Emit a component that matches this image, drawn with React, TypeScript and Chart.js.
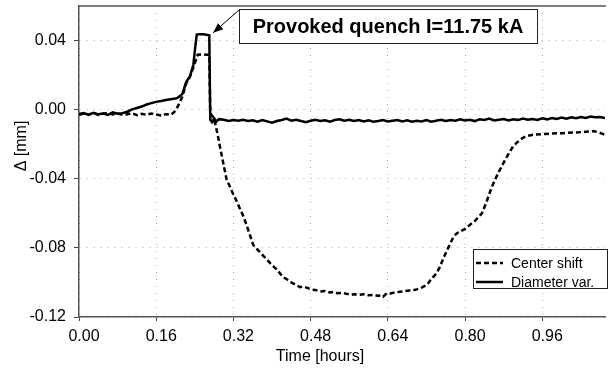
import React, { useEffect, useRef } from "react";
import { Chart, registerables } from "chart.js";

Chart.register(...registerables);

// ---------- data ----------
const X_TICKS = [0, 0.16, 0.32, 0.48, 0.64, 0.8, 0.96];
const Y_TICKS = [-0.12, -0.08, -0.04, 0, 0.04];
const X_MIN = 0;
const X_MAX = 1.09;
const Y_MIN = -0.12;
const Y_MAX = 0.06;

const SERIES_LABELS = ["Center shift", "Diameter var."];
const X_TITLE = "Time [hours]";
const Y_TITLE = "Δ [mm]";
const ANNOTATION_TEXT = "Provoked quench I=11.75 kA";
const ANNOTATION_TARGET = [0.278, 0.0445];

const CENTER_X = [
  0.0, 0.01, 0.02, 0.03, 0.04, 0.05, 0.06, 0.07, 0.08, 0.09, 0.1, 0.11, 0.12, 0.13, 0.14, 0.15, 0.16, 0.17, 0.18,
  0.19, 0.195, 0.2, 0.205, 0.21, 0.214, 0.222, 0.23, 0.237, 0.24, 0.244, 0.246, 0.255, 0.265, 0.27, 0.272, 0.277,
  0.282, 0.287, 0.292, 0.299, 0.306, 0.311, 0.318, 0.325, 0.333, 0.341, 0.35, 0.356, 0.361, 0.37, 0.38, 0.39, 0.4,
  0.41, 0.423, 0.43, 0.44, 0.45, 0.458, 0.465, 0.472, 0.48, 0.49, 0.5, 0.51, 0.52, 0.527, 0.535, 0.545, 0.555,
  0.562, 0.57, 0.58, 0.59, 0.6, 0.61, 0.62, 0.625, 0.63, 0.638, 0.645, 0.655, 0.665, 0.675, 0.685, 0.695, 0.7,
  0.71, 0.721, 0.73, 0.74, 0.748, 0.755, 0.765, 0.776, 0.783, 0.79, 0.8, 0.81, 0.82, 0.835, 0.845, 0.855, 0.862,
  0.87, 0.887, 0.9, 0.914, 0.925, 0.941, 0.96, 0.98, 1.0, 1.011, 1.03, 1.05, 1.066, 1.075, 1.085, 1.09,
];
const CENTER_Y = [
  -0.003, -0.0022, -0.0028, -0.002, -0.003, -0.0024, -0.0018, -0.0028, -0.0022, -0.003, -0.0026, -0.002, -0.0032,
  -0.0024, -0.003, -0.0022, -0.0028, -0.0034, -0.0026, -0.003, -0.002, -0.0005, 0.002, 0.005, 0.0074, 0.015, 0.019,
  0.0245, 0.027, 0.03, 0.0318, 0.032, 0.0318, 0.0318, -0.002, -0.004, -0.0077, -0.014, -0.0213, -0.031, -0.0406,
  -0.0435, -0.048, -0.052, -0.057, -0.0619, -0.069, -0.074, -0.0783, -0.081, -0.084, -0.087, -0.09, -0.0925,
  -0.097, -0.098, -0.1, -0.1015, -0.1027, -0.1024, -0.103, -0.104, -0.1044, -0.1052, -0.105, -0.1058, -0.1055,
  -0.1062, -0.106, -0.1066, -0.107, -0.1068, -0.1072, -0.1068, -0.1074, -0.1072, -0.1078, -0.1074, -0.1082,
  -0.1062, -0.1064, -0.1058, -0.1054, -0.105, -0.1046, -0.1044, -0.104, -0.103, -0.1015, -0.098, -0.095, -0.091,
  -0.086, -0.08, -0.0736, -0.0715, -0.0705, -0.069, -0.0667, -0.0645, -0.06, -0.053, -0.045, -0.0406, -0.036,
  -0.027, -0.021, -0.0174, -0.0155, -0.0145, -0.0142, -0.0138, -0.0136, -0.0134, -0.0132, -0.0128, -0.0124, -0.013,
  -0.014, -0.0145,
];

const DIAM_X = [
  0.0, 0.01, 0.02, 0.03, 0.04, 0.05, 0.06, 0.07, 0.08, 0.09, 0.1, 0.11, 0.12, 0.13, 0.14, 0.15, 0.16, 0.17, 0.18,
  0.19, 0.2, 0.205, 0.214, 0.222, 0.23, 0.237, 0.24, 0.244, 0.25, 0.258, 0.266, 0.27, 0.272, 0.276, 0.28, 0.285,
  0.29, 0.3, 0.31, 0.32, 0.33, 0.34, 0.35, 0.36, 0.37, 0.38, 0.39, 0.4, 0.41, 0.42, 0.43, 0.44, 0.45, 0.46, 0.47,
  0.48, 0.49, 0.5, 0.51, 0.52, 0.53, 0.54, 0.55, 0.56, 0.57, 0.58, 0.59, 0.6, 0.61, 0.62, 0.63, 0.64, 0.65, 0.66,
  0.67, 0.68, 0.69, 0.7, 0.71, 0.72, 0.73, 0.74, 0.75, 0.76, 0.77, 0.78, 0.79, 0.8, 0.81, 0.82, 0.83, 0.84, 0.85,
  0.86, 0.87, 0.88, 0.89, 0.9, 0.91, 0.92, 0.93, 0.94, 0.95, 0.96, 0.97, 0.98, 0.99, 1.0, 1.01, 1.02, 1.03, 1.04,
  1.05, 1.06, 1.07, 1.08, 1.09,
];
const DIAM_Y = [
  -0.0025, -0.002, -0.003, -0.0018, -0.0027, -0.0022, -0.003, -0.0016, -0.0024, -0.002, -0.0012, 0.0002, 0.001,
  0.0018, 0.003, 0.0038, 0.0045, 0.005, 0.0056, 0.006, 0.0064, 0.007, 0.009, 0.016, 0.0194, 0.026, 0.034, 0.0435,
  0.0437, 0.0436, 0.0432, 0.043, -0.0058, -0.0072, -0.005, -0.0068, -0.0055, -0.0058, -0.0066, -0.006, -0.0064,
  -0.0058, -0.0066, -0.0062, -0.007, -0.006, -0.0068, -0.0076, -0.0066, -0.006, -0.0052, -0.0064, -0.0058, -0.0066,
  -0.0072, -0.0064, -0.0058, -0.0066, -0.0062, -0.007, -0.006, -0.0056, -0.0064, -0.0058, -0.0066, -0.006, -0.0068,
  -0.0062, -0.007, -0.0066, -0.006, -0.0068, -0.0064, -0.006, -0.0068, -0.0062, -0.007, -0.0064, -0.0068, -0.006,
  -0.007, -0.0064, -0.0058, -0.0066, -0.006, -0.0064, -0.0056, -0.0062, -0.0058, -0.0066, -0.0056, -0.006, -0.0052,
  -0.0062, -0.0058, -0.0054, -0.0062, -0.0056, -0.006, -0.0052, -0.0058, -0.0054, -0.006, -0.005, -0.0056, -0.0048,
  -0.0054, -0.0046, -0.0052, -0.0044, -0.005, -0.0042, -0.0048, -0.004, -0.0044, -0.0042, -0.0048,
];

const FONT = '"Liberation Sans", Arial, Helvetica, sans-serif';

const fmt = (v: number) => (Math.abs(v) < 1e-9 ? "0.00" : v.toFixed(2));

const overlay = {
  id: "overlay",
  afterDraw(chart: any) {
    const { ctx, chartArea: ca, scales } = chart;
    ctx.save();
    // top frame line
    ctx.strokeStyle = "#555";
    ctx.lineWidth = 1.5;
    ctx.setLineDash([]);
    ctx.beginPath();
    ctx.moveTo(ca.left, ca.top);
    ctx.lineTo(ca.right + 1, ca.top);
    ctx.stroke();

    // axis titles
    ctx.fillStyle = "#000";
    ctx.font = `16px ${FONT}`;
    ctx.textAlign = "center";
    ctx.textBaseline = "middle";
    ctx.fillText(X_TITLE, 320, ca.bottom + 40);
    ctx.save();
    ctx.translate(22, 146);
    ctx.rotate(-Math.PI / 2);
    ctx.fillText(Y_TITLE, 0, 0);
    ctx.restore();

    // legend
    const lx = ca.right - 132;
    const ly = 249;
    const lw = 134;
    const lh = 39;
    ctx.fillStyle = "#fff";
    ctx.fillRect(lx, ly, lw, lh);
    ctx.strokeStyle = "#222";
    ctx.lineWidth = 1;
    ctx.strokeRect(lx + 0.5, ly + 0.5, lw, lh);
    const ds = chart.data.datasets;
    ds.forEach((d: any, i: number) => {
      const yy = ly + 14 + i * 19;
      ctx.strokeStyle = "#000";
      ctx.lineWidth = 2.5;
      ctx.setLineDash(d.borderDash || []);
      ctx.beginPath();
      ctx.moveTo(lx + 3, yy);
      ctx.lineTo(lx + 30, yy);
      ctx.stroke();
      ctx.setLineDash([]);
      ctx.fillStyle = "#000";
      ctx.font = `14px ${FONT}`;
      ctx.textAlign = "left";
      ctx.textBaseline = "middle";
      ctx.fillText(d.label, lx + 38, yy + 1);
    });

    // annotation
    const bx = 239;
    const by = 9;
    const bw = 298;
    const bh = 34;
    ctx.fillStyle = "#fff";
    ctx.fillRect(bx, by, bw, bh);
    ctx.strokeStyle = "#222";
    ctx.lineWidth = 1;
    ctx.strokeRect(bx + 0.5, by + 0.5, bw, bh);
    ctx.fillStyle = "#000";
    ctx.font = `bold 20px ${FONT}`;
    ctx.textAlign = "center";
    ctx.textBaseline = "middle";
    ctx.fillText(ANNOTATION_TEXT, bx + bw / 2, by + bh / 2 + 1);

    const tx = scales.x.getPixelForValue(ANNOTATION_TARGET[0]);
    const ty = scales.y.getPixelForValue(ANNOTATION_TARGET[1]);
    const sx = bx;
    const sy = by + 1;
    ctx.strokeStyle = "#000";
    ctx.lineWidth = 1;
    ctx.beginPath();
    ctx.moveTo(sx, sy);
    ctx.lineTo(tx, ty);
    ctx.stroke();
    const ang = Math.atan2(ty - sy, tx - sx);
    const hl = 10;
    const hw = 4;
    ctx.fillStyle = "#000";
    ctx.beginPath();
    ctx.moveTo(tx, ty);
    ctx.lineTo(tx - hl * Math.cos(ang) + hw * Math.sin(ang), ty - hl * Math.sin(ang) - hw * Math.cos(ang));
    ctx.lineTo(tx - hl * Math.cos(ang) - hw * Math.sin(ang), ty - hl * Math.sin(ang) + hw * Math.cos(ang));
    ctx.closePath();
    ctx.fill();
    ctx.restore();
  },
};

export default function App() {
  const ref = useRef<HTMLCanvasElement | null>(null);
  useEffect(() => {
    if (!ref.current) return;
    const chart = new Chart(ref.current, {
      type: "line",
      data: {
        datasets: [
          {
            label: SERIES_LABELS[0],
            data: CENTER_X.map((x, i) => ({ x, y: CENTER_Y[i] })),
            borderColor: "#000",
            borderWidth: 2.5,
            borderDash: [5, 3],
            pointRadius: 0,
            tension: 0,
            fill: false,
          },
          {
            label: SERIES_LABELS[1],
            data: DIAM_X.map((x, i) => ({ x, y: DIAM_Y[i] })),
            borderColor: "#000",
            borderWidth: 2.5,
            pointRadius: 0,
            tension: 0,
            fill: false,
          },
        ],
      },
      options: {
        animation: false,
        responsive: true,
        maintainAspectRatio: false,
        layout: { padding: { top: 6, right: 5, left: 0, bottom: 0 } },
        plugins: { legend: { display: false }, tooltip: { enabled: false }, title: { display: false } },
        scales: {
          x: {
            type: "linear",
            min: X_MIN,
            max: X_MAX,
            afterFit: (s: any) => {
              s.height = 55;
              s.paddingLeft = 0;
              s.paddingRight = 0;
            },
            afterBuildTicks: (s: any) => {
              s.ticks = X_TICKS.map((v) => ({ value: v }));
            },
            ticks: {
              callback: (v: any) => fmt(Number(v)),
              font: { family: FONT, size: 16 },
              color: "#000",
              padding: 6,
              labelOffset: 5,
              maxRotation: 0,
              autoSkip: false,
            },
            grid: { color: "#aaa", lineWidth: 1, tickColor: "#444", tickLength: 4, tickBorderDash: [] },
            border: { display: true, color: "#555", width: 1.5, dash: [1, 6] },
          },
          y: {
            type: "linear",
            min: Y_MIN,
            max: Y_MAX,
            afterFit: (s: any) => {
              s.width = 79;
              s.paddingTop = 0;
              s.paddingBottom = 0;
            },
            afterBuildTicks: (s: any) => {
              s.ticks = Y_TICKS.map((v) => ({ value: v }));
            },
            ticks: {
              callback: (v: any) => fmt(Number(v)),
              font: { family: FONT, size: 16 },
              color: "#000",
              padding: 8,
              autoSkip: false,
            },
            grid: { color: "#aaa", lineWidth: 1, tickColor: "#444", tickLength: 5, tickBorderDash: [] },
            border: { display: true, color: "#555", width: 1.5, dash: [1, 6] },
          },
        },
      },
      plugins: [overlay],
    });
    return () => chart.destroy();
  }, []);
  return (
    <div style={{ position: "fixed", left: 0, top: 0, width: 610, height: 372, background: "#fff" }}>
      <canvas ref={ref} />
    </div>
  );
}
